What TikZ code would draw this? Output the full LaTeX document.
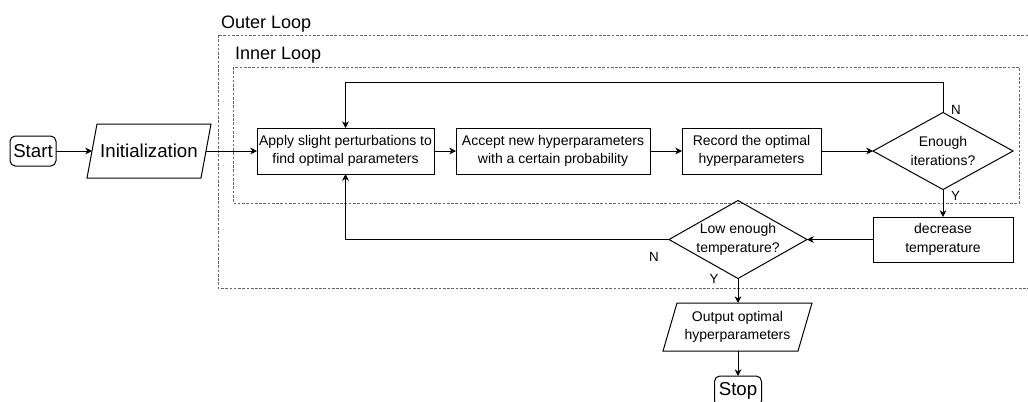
\documentclass[tikz,border=0pt]{standalone}
\usepackage{fontspec}
\setmainfont{Liberation Sans}
\usetikzlibrary{shapes.geometric,arrows.meta}
\begin{document}
\begin{tikzpicture}[x=0.75pt,y=-0.75pt,
  every node/.style={inner sep=0pt, outer sep=0pt},
  proc/.style={draw, line width=0.75pt, align=center, font=\fontsize{10.5}{14}\selectfont},
  term/.style={draw, rounded corners=4pt, line width=0.75pt, font=\fontsize{14}{16}\selectfont,
               minimum height=22.5pt},
  io/.style={align=center},
  ioedge/.style={draw, line width=0.75pt, line join=miter},
  decide/.style={diamond, draw, line width=0.75pt},
  dtext/.style={align=center, font=\fontsize{10.5}{14.5}\selectfont},
  flow/.style={-{Stealth[length=5pt,width=5pt,inset=1.5pt]}, line width=0.75pt},
  loopbox/.style={draw=black!60, line width=0.75pt, dash pattern=on 2pt off 1.2pt},
  loopname/.style={anchor=base west, font=\fontsize{13.5}{16}\selectfont},
  yn/.style={font=\fontsize{10}{12}\selectfont}
]
\useasboundingbox (0,0) rectangle (1028,401);
\clip (0,0) rectangle (1028,401);

% loop frames
\draw[loopbox] (218,35) rectangle (1040,288);
\draw[loopbox] (233,67) rectangle (1019,203);
\node[loopname] (outername) at (221,28) {Outer Loop};
\node[loopname] (innername) at (235,59) {Inner Loop};

% main row
\node[term, minimum width=34.5pt] (start) at (33,151) {Start};
\node[io, minimum width=85.5pt, minimum height=40.5pt,
      font=\fontsize{14}{16}\selectfont] (init) at (149,151) {Initialization};
\draw[ioedge] ([xshift=3.75pt]init.north west) -- ([xshift=3.75pt]init.north east)
  -- ([xshift=-3.75pt]init.south east) -- ([xshift=-3.75pt]init.south west) -- cycle;
\node[proc, minimum width=132.75pt, minimum height=34.5pt] (apply) at (345.5,151)
  {Apply slight perturbations to\\find optimal parameters};
\node[proc, minimum width=145.5pt, minimum height=34.5pt] (accept) at (553,151)
  {Accept new hyperparameters\\with a certain probability};
\node[proc, minimum width=104.25pt, minimum height=34.5pt] (record) at (751.5,151)
  {Record the optimal\\hyperparameters};
\node[decide, minimum width=105pt, minimum height=57.75pt,
      label={[dtext]center:Enough\\iterations?}] (enough) at (943,151) {};

% temperature row
\node[proc, minimum width=105pt, minimum height=33.75pt] (cool) at (943,239.5)
  {decrease\\temperature};
\node[decide, minimum width=103.5pt, minimum height=58.5pt,
      label={[dtext]center:Low enough\\temperature?}] (low) at (738,239.5) {};

% output
\node[io, minimum width=101.25pt, minimum height=36pt,
      font=\fontsize{10.5}{13.5}\selectfont] (output) at (737.5,327)
  {Output optimal\\hyperparameters};
\draw[ioedge] ([xshift=5.25pt]output.north west) -- ([xshift=5.25pt]output.north east)
  -- ([xshift=-5.25pt]output.south east) -- ([xshift=-5.25pt]output.south west) -- cycle;
\node[term, minimum width=35.25pt] (stop) at (738,391) {Stop};

% branch labels
\node[yn] (n1) at (956,109.5) {N};
\node[yn] (y1) at (955.5,196) {Y};
\node[yn] (n2) at (654,257) {N};
\node[yn] (y2) at (714,279) {Y};

% connectors
\draw[flow] (start) -- (init);
\draw[flow] (init) -- (apply);
\draw[flow] (apply) -- (accept);
\draw[flow] (accept) -- (record);
\draw[flow] (record) -- (enough);
\draw[flow] (enough.north) -- ++(0,-30) -| (apply.north);
\draw[flow] (enough.south) -- (cool.north);
\draw[flow] (cool.west) -- (low.east);
\draw[flow] (low.west) -| (apply.south);
\draw[flow] (low.south) -- (low.south |- output.north);
\draw[flow] (stop.north |- output.south) -- (stop.north);
\end{tikzpicture}
\end{document}
